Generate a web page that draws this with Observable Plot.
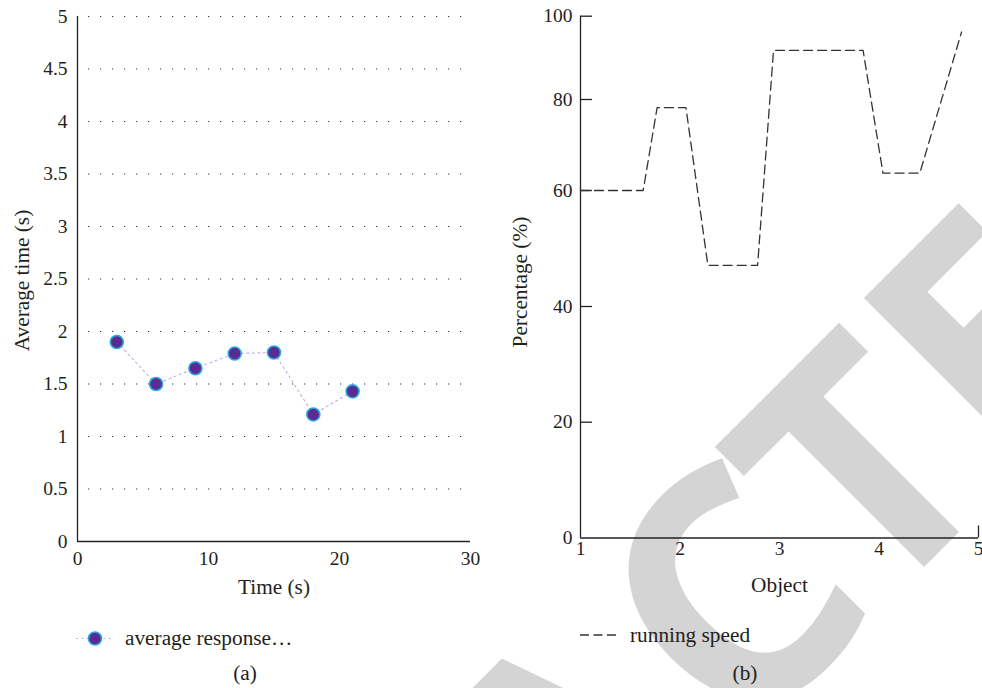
<!DOCTYPE html>
<html>
<head>
<meta charset="utf-8">
<script src="https://cdn.jsdelivr.net/npm/d3@7"></script>
<script src="https://cdn.jsdelivr.net/npm/@observablehq/plot@0.6"></script>
<style>
  html, body { margin: 0; padding: 0; background: #fff; }
  #page { position: relative; width: 982px; height: 688px; overflow: hidden; background: #fff; }
  #bg, #left, #right { position: absolute; top: 0; }
  #bg { left: 0; }
  #left { left: 0; }
  #right { left: 490px; }
  svg text { font-family: "Liberation Serif", serif; }
</style>
</head>
<body>
<div id="page">
  <svg id="bg" width="982" height="688">
    <text transform="translate(941.5,549.5) rotate(-45)" x="-1211 -1015 -836 -640 -418 -183 0 185 391" y="0" text-anchor="middle"
      style="font-family:'Open Sans',sans-serif;font-weight:700;font-size:326px;font-kerning:none;fill:#d4d4d4">RETRACTED</text>
    <g id="legendA"></g>
    <g id="legendB"></g>
  </svg>
  <div id="left"></div>
  <div id="right"></div>
</div>
<script>
// ---- Panel (a) data ----
const timeS = [3, 6, 9, 12, 15, 18, 21];
const avgResponse = [1.9, 1.5, 1.65, 1.79, 1.8, 1.21, 1.43];
const timeTicks = [0, 10, 20, 30];
const avgTicks = [0, 0.5, 1, 1.5, 2, 2.5, 3, 3.5, 4, 4.5, 5];

// ---- Panel (b) data ----
const objectX = [1, 1.63, 1.77, 2.06, 2.28, 2.78, 2.94, 3.84, 4.04, 4.41, 4.83];
const runningSpeed = [60, 60, 78.2, 78.2, 47.1, 47.1, 91.8, 91.8, 63.8, 63.8, 96.2];
const objectTicks = [1, 2, 3, 4, 5];
const percentTicks = [0, 20, 40, 60, 80, 100];
// the original y axis is unevenly spaced: screen rows of each tick label
const percentTickRows = [537.5, 421.7, 306, 190, 99, 15.7];

const font = "Liberation Serif";
const ink = "#231f20";
const tickFont = 19.5, labelFont = 21.3;

const dataA = timeS.map((t, i) => ({t, v: avgResponse[i]}));
const dataB = objectX.map((o, i) => ({o, v: runningSpeed[i]}));

// ---------- Left chart ----------
const W1 = 490, H1 = 600, mL1 = 77, mR1 = 20, mT1 = 16, mB1 = 59;
const left = Plot.plot({
  width: W1, height: H1,
  marginLeft: mL1, marginRight: mR1, marginTop: mT1, marginBottom: mB1,
  style: {fontFamily: font, fontSize: tickFont + "px", color: ink, background: "transparent", overflow: "visible"},
  x: {domain: [0, 30]},
  y: {domain: [0, 5]},
  marks: [
    Plot.gridY(avgTicks.filter(d => d > 0), {stroke: "#333", strokeOpacity: 1, strokeWidth: 1.1, strokeDasharray: "1.2,10.8", insetLeft: 11, insetRight: 8}),
    Plot.ruleX([0], {stroke: "#222", strokeWidth: 1.3}),
    Plot.ruleY([0], {stroke: "#222", strokeWidth: 1.3}),
    Plot.axisY({ticks: avgTicks, tickSize: 0, tickPadding: 10, tickFormat: d => String(d), label: null, fontSize: tickFont}),
    Plot.axisX({ticks: timeTicks, tickSize: 0, tickPadding: 10, tickFormat: d => String(d), label: null, fontSize: tickFont}),
    Plot.text(["Time (s)"], {frameAnchor: "bottom", dy: 37, lineAnchor: "top", textAnchor: "middle", fontSize: labelFont, fill: ink}),
    Plot.text(["Average time (s)"], {frameAnchor: "left", rotate: -90, dx: -64, dy: 1.5, lineAnchor: "top", textAnchor: "middle", fontSize: labelFont, fill: ink}),
    Plot.line(dataA, {x: "t", y: "v", stroke: "#c6b3e3", strokeWidth: 1.2, strokeDasharray: "2,3.5"}),
    Plot.dot(dataA, {x: "t", y: "v", r: 6.5, fill: "#5a2b90", stroke: "#2aa7e0", strokeWidth: 1.6})
  ]
});
document.getElementById("left").appendChild(left);

// ---------- Right chart ----------
const W2 = 492, H2 = 600, mL2 = 90, mR2 = 4, mT2 = 15.7, mB2 = 62.5;
const frameW2 = W2 - mL2 - mR2, frameH2 = H2 - mT2 - mB2;
const right = Plot.plot({
  width: W2, height: H2,
  marginLeft: mL2, marginRight: mR2, marginTop: mT2, marginBottom: mB2,
  style: {fontFamily: font, fontSize: tickFont + "px", color: ink, background: "transparent", overflow: "visible"},
  x: {domain: [1, 5]},
  y: {type: "linear", domain: percentTicks, range: percentTickRows},
  marks: [
    Plot.ruleX([1], {stroke: "#222", strokeWidth: 1.3}),
    Plot.ruleY([0], {stroke: "#222", strokeWidth: 1.3}),
    Plot.ruleY(percentTicks.filter(d => d > 0), {stroke: "#222", strokeWidth: 1.3, insetRight: frameW2 - 12}),
    Plot.ruleX([5], {stroke: "#222", strokeWidth: 1.3, insetTop: frameH2 - 12}),
    Plot.axisY({ticks: percentTicks, tickSize: 0, tickPadding: 8, tickFormat: d => String(d), label: null, fontSize: tickFont}),
    Plot.axisX({ticks: objectTicks, tickSize: 0, tickPadding: 3, tickFormat: d => String(d), label: null, fontSize: tickFont}),
    Plot.text(["Object"], {frameAnchor: "bottom", dy: 39, lineAnchor: "top", textAnchor: "middle", fontSize: labelFont, fill: ink}),
    Plot.text(["Percentage (%)"], {frameAnchor: "left", rotate: -90, dx: -69, dy: 5, lineAnchor: "top", textAnchor: "middle", fontSize: labelFont, fill: ink}),
    Plot.line(dataB, {x: "o", y: "v", stroke: "#333", strokeWidth: 1.3, strokeDasharray: "9,5"})
  ]
});
document.getElementById("right").appendChild(right);

// ---------- Legends and captions (below the plots) ----------
const ns = "http://www.w3.org/2000/svg";
function el(parent, tag, attrs, text) {
  const e = document.createElementNS(ns, tag);
  for (const k in attrs) e.setAttribute(k, attrs[k]);
  if (text != null) e.textContent = text;
  parent.appendChild(e);
  return e;
}
const gA = document.getElementById("legendA");
el(gA, "line", {x1: 76, x2: 114, y1: 638.5, y2: 638.5, stroke: "#c6b3e3", "stroke-width": 1.2, "stroke-dasharray": "2,3.5"});
el(gA, "circle", {cx: 95, cy: 638.5, r: 6.5, fill: "#5a2b90", stroke: "#2aa7e0", "stroke-width": 1.6});
el(gA, "text", {x: 125, y: 644.5, fill: ink, "font-size": labelFont}, "average response…");
el(gA, "text", {x: 245, y: 680, fill: ink, "font-size": labelFont, "text-anchor": "middle"}, "(a)");

const gB = document.getElementById("legendB");
el(gB, "line", {x1: 580, x2: 616, y1: 635, y2: 635, stroke: "#333", "stroke-width": 1.3, "stroke-dasharray": "9,4.5"});
el(gB, "text", {x: 630, y: 642, fill: ink, "font-size": labelFont}, "running speed");
el(gB, "text", {x: 745, y: 680, fill: ink, "font-size": labelFont, "text-anchor": "middle"}, "(b)");
</script>
</body>
</html>
